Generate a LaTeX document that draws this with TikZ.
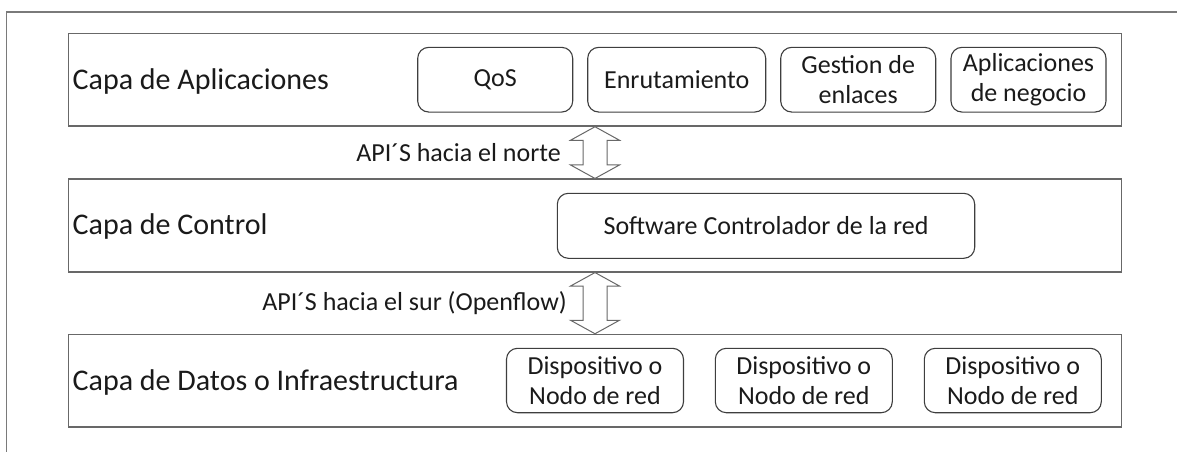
\documentclass[tikz,border=0pt]{standalone}
\usepackage{fontspec}
\setmainfont{Carlito}
\usetikzlibrary{calc}
\definecolor{framegray}{HTML}{7A7A7A}
\definecolor{layergray}{HTML}{686868}
\definecolor{boxgray}{HTML}{3E3E3E}
\definecolor{inkblack}{HTML}{1A1A1A}

% hollow double-headed arrow between two layer nodes
\newcommand\apiarrow[2]{%
  \draw[blockarrow] (#1.south)
    -- ($(#1.south)+(24.5,13.5)$) -- ($(#1.south)+(12,13.5)$)
    -- ($(#2.north)+(12,-13.5)$) -- ($(#2.north)+(24.5,-13.5)$)
    -- (#2.north)
    -- ($(#2.north)+(-24.5,-13.5)$) -- ($(#2.north)+(-12,-13.5)$)
    -- ($(#1.south)+(-12,13.5)$) -- ($(#1.south)+(-24.5,13.5)$)
    -- cycle;}

\begin{document}
\begin{tikzpicture}[x=1pt,y=-1pt,
  layer/.style={draw=layergray, line width=1.4pt, minimum width=1053.4pt,
    minimum height=92.7pt, inner sep=0pt},
  layerlabel/.style={anchor=base west, inner sep=0pt,
    font=\fontsize{30}{36}\selectfont, text=inkblack},
  module/.style={draw=boxgray, line width=1.1pt, rounded corners=11pt,
    minimum height=64.7pt, inner sep=0pt, align=center,
    font=\fontsize{26}{30}\selectfont, text=inkblack},
  apilabel/.style={anchor=east, inner sep=0pt,
    font=\fontsize{26}{30}\selectfont, text=inkblack},
  blockarrow/.style={draw=layergray, line width=1pt, fill=white, line join=miter},
]
\useasboundingbox (0,0) rectangle (1177,452);

% outer frame (open to the right and bottom)
\draw[draw=framegray, line width=1.4pt] (6.7,452) -- (6.7,12) -- (1177,12);

% layers
\node[layer] (apps) at (595,79.7) {};
\node[layer] (ctrl) at (595,225.5) {};
\node[layer] (data) at (595,380.8) {};

\node[layerlabel] (appslbl) at (72.5,89.3) {Capa de Aplicaciones};
\node[layerlabel] (ctrllbl) at (72.5,234.3) {Capa de Control};
\node[layerlabel] (datalbl) at (72.5,390) {Capa de Datos o Infraestructura};

% application modules
\node[module, minimum width=155pt] (qos) at (495.2,79.7) {QoS};
\node[module, minimum width=178pt] (rout) at (676.7,79.7) {Enrutamiento};
\node[module, minimum width=155pt] (links) at (858.2,79.7) {Gestion de\\enlaces};
\node[module, minimum width=155pt] (biz) at (1028.5,79.7) {Aplicaciones\\de negocio};

% controller
\node[module, minimum width=417.4pt, minimum height=65pt] (sdn) at (766,225.8)
  {Software Controlador de la red};

% network devices
\node[module, minimum width=177pt, minimum height=64.4pt] (dev1) at (595,380.5)
  {Dispositivo o\\Nodo de red};
\node[module, minimum width=177pt, minimum height=64.4pt] (dev2) at (803.8,380.5)
  {Dispositivo o\\Nodo de red};
\node[module, minimum width=177pt, minimum height=64.4pt] (dev3) at (1012.8,380.5)
  {Dispositivo o\\Nodo de red};

% interfaces between layers
\apiarrow{apps}{ctrl}
\apiarrow{ctrl}{data}
\node[apilabel] (north) at (561,153) {API´S hacia el norte};
\node[apilabel] (south) at (567,303) {API´S hacia el sur (Openflow)};
\end{tikzpicture}
\end{document}
